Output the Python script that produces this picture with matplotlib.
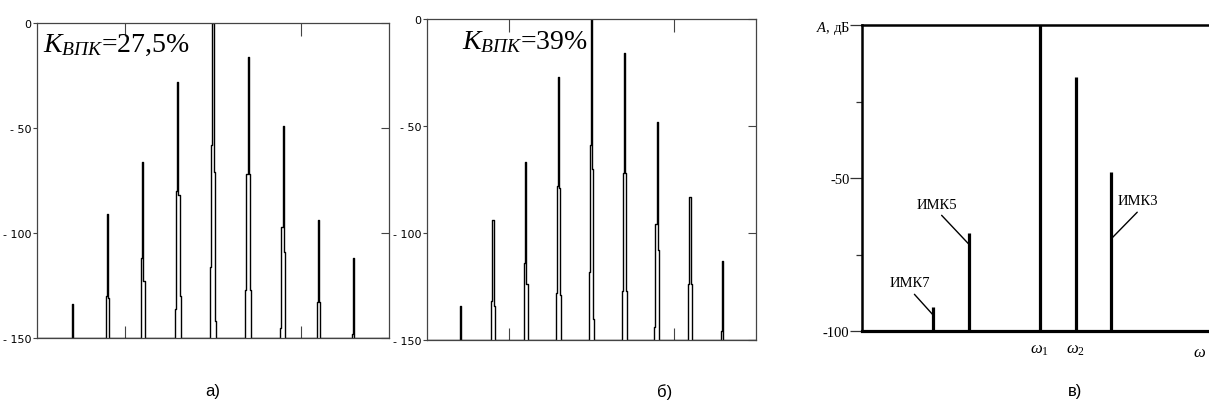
"""
plot.py

Intermodulation spectra of a two-tone signal: two simulated spectra for
different K_VPK values (panels a, b) and the schematic spectrum (panel c).
"""

import matplotlib
matplotlib.use("Agg")
import matplotlib.pyplot as plt
from matplotlib import font_manager
from matplotlib.ticker import FixedLocator

# harmonic index of each spectral cluster (0 = strongest tone)
harmonics = [-4, -3, -2, -1, 0, 1, 2, 3, 4]

# panel a), K_VPK = 27.5 %, levels in dB
a_main = [-134, -91, -66, -28, 0, -16, -49, -94, -112]
a_inner_left = [-150, -130, -112, -80, -58, -72, -97, -133, -148]
a_inner_right = [-150, -131, -123, -82, -71, -72, -109, -133, -150]
a_outer_left = [-150, -150, -150, -136, -116, -127, -145, -150, -150]
a_outer_right = [-150, -150, -150, -130, -142, -127, -150, -150, -150]

# panel b), K_VPK = 39 %
b_main = [-134, -94, -67, -27, 0, -16, -48, -83, -113]
b_inner_left = [-150, -132, -114, -78, -59, -72, -96, -124, -146]
b_inner_right = [-150, -134, -124, -79, -70, -72, -108, -124, -150]
b_outer_left = [-150, -150, -150, -128, -118, -127, -144, -150, -150]
b_outer_right = [-150, -150, -150, -129, -140, -127, -150, -150, -150]

sim_yticks = [0, -50, -100, -150]
sim_ylabels = ["0", "- 50", "- 100", "- 150"]

# panel c), schematic spectrum
c_freq = [-3, -2, 0, 1, 2]
c_level = [-92, -68, 0, -17, -48]
c_yticks = [0, -50, -100]
c_ylabels = ["$A$, дБ", "-50", "-100"]
c_minor = [-25, -75]
c_xticks = [0, 1]
c_xlabels = [r"$\omega_1$", r"$\omega_2$"]

plt.rcParams["mathtext.fontset"] = "custom"
plt.rcParams["mathtext.rm"] = "Liberation Serif"
plt.rcParams["mathtext.it"] = "Liberation Serif:italic"

names = {f.name for f in font_manager.fontManager.ttflist}
if "Liberation Sans Narrow" in names:
    TICK_FONT, TICK_SIZE = "Liberation Sans Narrow", 10
else:
    TICK_FONT, TICK_SIZE = "DejaVu Sans", 8

W, H = 1209, 410


def px_box(left, top, right, bottom):
    """Axes rectangle from pixel edges of the reference picture."""
    return [left / W, 1 - bottom / H, (right - left) / W, (bottom - top) / H]


def spectrum_line(main, inner_l, inner_r, outer_l, outer_r, d=0.034):
    """Build one stepped polyline through all clusters."""
    xs, ys = [-5.5], [-150]
    for k, m, il, ir, ol, orr in zip(harmonics, main, inner_l, inner_r,
                                     outer_l, outer_r):
        levels = [-150, ol, il, m, ir, orr, -150]
        for j, lev in zip(range(-3, 4), levels):
            xs.append(k + j * d)
            ys.append(lev)
    xs.append(5.5)
    ys.append(-150)
    return xs, ys


def draw_sim_panel(ax, main, inner_l, inner_r, outer_l, outer_r, label, lx):
    xs, ys = spectrum_line(main, inner_l, inner_r, outer_l, outer_r)
    ax.plot(xs, ys, color="black", lw=1.0, drawstyle="steps-mid")
    ax.set_xlim(-5.01, 5.01)
    ax.set_ylim(-150, 0)
    for sp in ax.spines.values():
        sp.set_color("#444444")
        sp.set_linewidth(0.9)

    ax.set_yticks(sim_yticks)
    ax.set_yticklabels(sim_ylabels, fontfamily=TICK_FONT, fontsize=TICK_SIZE)
    ax.tick_params(axis="y", left=True, right=True, direction="out",
                   length=3, pad=1, color="#444444")
    for t in ax.yaxis.get_major_ticks():
        t.tick2line.set_marker(0)  # inward tick on right side
        t.tick2line.set_markersize(6)
    ax.set_xticks([-2.5, 2.5])
    ax.set_xticklabels([])
    ax.tick_params(axis="x", top=True, bottom=True, direction="in",
                   length=9, color="#444444")
    ax.text(lx, 0.91, label, transform=ax.transAxes,
            fontfamily="Liberation Serif", fontsize=20,
            va="baseline", ha="left")


fig = plt.figure(figsize=(W / 100, H / 100), dpi=100)

ax_a = fig.add_axes(px_box(37, 24, 389, 339))
draw_sim_panel(ax_a, a_main, a_inner_left, a_inner_right, a_outer_left,
               a_outer_right, "$K_{ВПК}$=27,5%", 0.017)

ax_b = fig.add_axes(px_box(427, 20, 756, 341))
draw_sim_panel(ax_b, b_main, b_inner_left, b_inner_right, b_outer_left,
               b_outer_right, "$K_{ВПК}$=39%", 0.106)

# panel c
ax_c = fig.add_axes(px_box(862, 26, 1209, 332))
ax_c.vlines(c_freq, -100, c_level, color="black", lw=2.3)
ax_c.set_xlim(-5, 4.75)
ax_c.set_ylim(-100, 0)
ax_c.spines["right"].set_visible(False)
ax_c.spines["left"].set_linewidth(1.8)
ax_c.spines["top"].set_linewidth(1.8)
ax_c.spines["bottom"].set_linewidth(2.3)
ax_c.set_yticks(c_yticks)
ax_c.set_yticklabels(c_ylabels, fontfamily="Liberation Serif", fontsize=10.5)
ax_c.yaxis.set_minor_locator(FixedLocator(c_minor))
ax_c.tick_params(axis="y", which="major", length=9, pad=0, width=0.9,
                 color="#333333")
ax_c.tick_params(axis="y", which="minor", length=4, width=0.9,
                 color="#333333")
ax_c.set_xticks(c_xticks)
ax_c.set_xticklabels(c_xlabels, fontsize=12)
ax_c.tick_params(axis="x", length=0, pad=6)
# axis name at the right end of the frequency axis
ax_c.annotate(r"$\omega$", xy=(1.0, 0), xycoords="axes fraction",
              xytext=(-2, -8), textcoords="offset points",
              fontsize=12, ha="right", va="top")

notes = [("ИМК7", -3, -94.8, -3.65, -84.3),
         ("ИМК5", -2, -71.6, -2.89, -58.5),
         ("ИМК3", 2, -69.9, 2.75, -57.5)]
for txt, x, y, tx, ty in notes:
    ax_c.annotate(txt, xy=(x, y), xytext=(tx, ty), ha="center", va="center",
                  fontfamily="Liberation Serif", fontsize=10.5,
                  arrowprops=dict(arrowstyle="-", lw=1, color="black",
                                  shrinkA=2, shrinkB=0,
                                  relpos=(0.6 if x > 0 else 0.5, 0)))

for x, lab in [(213, "а)"), (665, "б)"), (1075, "в)")]:
    fig.text(x / W, 1 - 392 / H, lab, fontfamily="Liberation Sans",
             fontsize=12, ha="center", va="center")

fig.savefig("out.png", dpi=100)
